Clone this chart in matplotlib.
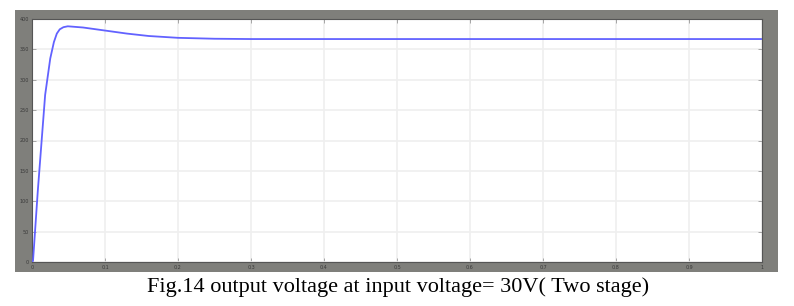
import matplotlib
matplotlib.use('Agg')
import matplotlib.pyplot as plt
from matplotlib.patches import Rectangle

# output voltage waveform
t = [0.0, 0.0014, 0.008, 0.018, 0.025, 0.030, 0.034, 0.038, 0.043, 0.049, 0.07, 0.1, 0.13, 0.16, 0.2, 0.25, 0.3, 1.0]
v = [0, 2, 118, 275, 335, 362, 376, 383, 386.5, 388, 386, 381, 376, 372, 369, 367.5, 367, 367]
x_ticks = [0, 0.1, 0.2, 0.3, 0.4, 0.5, 0.6, 0.7, 0.8, 0.9, 1]
y_ticks = [0, 50, 100, 150, 200, 250, 300, 350, 400]
caption = 'Fig.14 output voltage at input voltage= 30V( Two stage)'

W, H = 794, 306
fig = plt.figure(figsize=(W / 100, H / 100), dpi=100, facecolor='white')

# grey scope frame, behind the axes
fig.patches.append(Rectangle((15 / W, 1 - 272 / H), (778 - 15) / W, (272 - 10) / H,
                             transform=fig.transFigure, facecolor='#7f7f7b',
                             edgecolor='none', zorder=-10))

ax = fig.add_axes([32 / W, 1 - 262 / H, (762 - 32) / W, (262 - 19) / H])
ax.set_zorder(1)
ax.set_facecolor('white')
ax.plot(t, v, color='#6262ff', lw=1.3, zorder=3)
ax.set_xlim(0, 1)
ax.set_ylim(0, 400)
ax.set_xticks(x_ticks)
ax.set_yticks(y_ticks)
ax.set_xticklabels([f'{x:g}' for x in x_ticks])
ax.set_yticklabels([str(y) for y in y_ticks])
ax.grid(True, color='#efefef', lw=1.2, ls='-')
ax.tick_params(direction='in', length=3, width=0.6, color='#999999', labelsize=3.5,
               labelcolor='#3a3a3a', top=True, right=True, pad=2)
for s in ax.spines.values():
    s.set_color('#555555')
    s.set_linewidth(0.8)

fig.text(398 / W, 1 - 287 / H, caption, ha='center', va='center',
         family='Liberation Serif', fontsize=16, color='black')

fig.savefig('out.png', dpi=100, facecolor='white')
